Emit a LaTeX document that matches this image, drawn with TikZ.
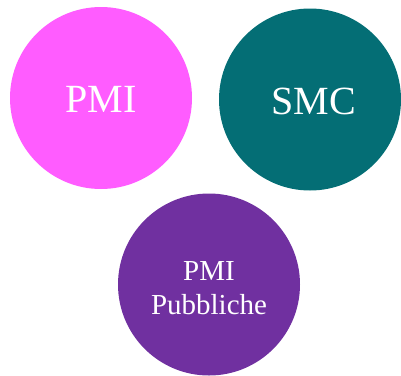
\documentclass[tikz,border=0pt]{standalone}
\usepackage{fontspec}
\setmainfont{Liberation Serif}
\usetikzlibrary{calc}
\definecolor{pmipink}{HTML}{FF5CFF}
\definecolor{smcteal}{HTML}{046E75}
\definecolor{pubpurple}{HTML}{7030A0}
\begin{document}
\begin{tikzpicture}[x=1pt, y=-1pt,
  blob/.style={circle, inner sep=0pt, minimum size=182pt, text=white,
    align=center}]
  \useasboundingbox (0,0) rectangle (401,375);
  \coordinate (A) at (101, 98);
  \coordinate (B) at (310, 99.5);
  \coordinate (C) at (209, 284.5);

  \fill[pmipink] (A) circle (91pt);
  \fill[smcteal] (B) circle (91pt);
  \fill[pubpurple] (C) circle (91pt);
  \node[blob, font=\fontsize{40}{40}\selectfont] (pmi) at ($(A)+(0,1.5)$) {PMI};
  \node[blob, font=\fontsize{40}{40}\selectfont] (smc) at ($(B)+(4,1.5)$) {SMC};
  \node[blob, font=\fontsize{29}{34}\selectfont] (pub) at ($(C)+(0,3.5)$) {PMI\\Pubbliche};
\end{tikzpicture}
\end{document}
